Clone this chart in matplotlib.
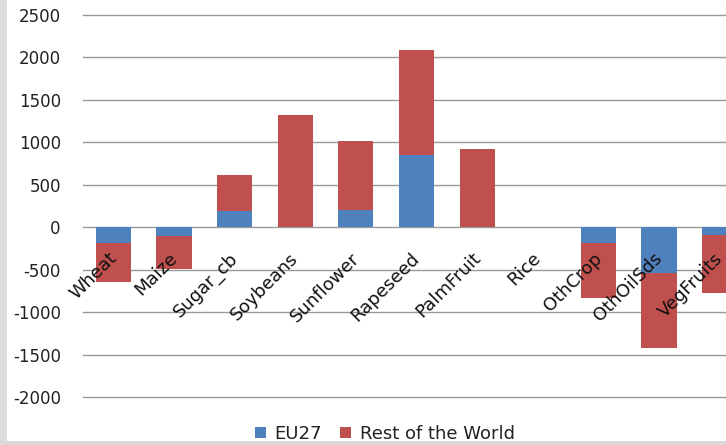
import matplotlib
matplotlib.use("Agg")
import matplotlib.pyplot as plt
from matplotlib.patches import Rectangle, Patch
import numpy as np

categories = ["Wheat", "Maize", "Sugar_cb", "Soybeans", "Sunflower", "Rapeseed",
              "PalmFruit", "Rice", "OthCrop", "OthOilSds", "VegFruits"]
eu27 = [-180, -100, 195, 0, 205, 845, 0, 0, -180, -540, -95]
rest_of_world = [-465, -395, 415, 1320, 810, 1240, 920, 0, -655, -885, -680]
y_ticks = [2500, 2000, 1500, 1000, 500, 0, -500, -1000, -1500, -2000]

plt.rcParams['font.family'] = ['DejaVu Sans']

W, H = 726, 445
fig = plt.figure(figsize=(W / 100, H / 100), dpi=100)
fig.patch.set_facecolor('white')

# gray frame on left and bottom
fig.patches.append(Rectangle((0, 0), 7 / W, 1, transform=fig.transFigure,
                             facecolor='#dcdcdc', edgecolor='none', zorder=-5))
fig.patches.append(Rectangle((0, 0), 1, 4 / H, transform=fig.transFigure,
                             facecolor='#d9d9d9', edgecolor='none', zorder=-5))

ax = fig.add_axes([83 / W, (H - 397) / H, 667 / W, 382 / H])
ax.set_facecolor('none')

x = np.arange(len(categories))
blue = '#4F81BD'
red = '#C0504D'
ax.bar(x, eu27, width=0.58, color=blue, zorder=3, label='EU27')
ax.bar(x, rest_of_world, width=0.58, bottom=eu27, color=red, zorder=3,
       label='Rest of the World')

ax.set_xlim(-0.5, len(categories) - 0.5)
ax.set_ylim(-2000, 2500)
ax.set_yticks(y_ticks)
ax.set_yticklabels([str(v) for v in y_ticks], fontsize=12, color='#222222')
ax.tick_params(axis='y', length=0, pad=16)
ax.set_xticks([])
ax.yaxis.grid(True, color='#9a9a9a', linewidth=1.0, zorder=0)
for gl in ax.get_ygridlines():
    gl.set_clip_on(False)
ax.set_axisbelow(True)
for s in ax.spines.values():
    s.set_visible(False)

for i, c in enumerate(categories):
    ax.annotate(c, xy=(i, 0), xycoords='data', xytext=(7, -22),
                textcoords='offset pixels', rotation=45, ha='right', va='top',
                fontsize=13, color='#111111', zorder=5, annotation_clip=False)

handles = [Patch(facecolor=blue, edgecolor='none'),
           Patch(facecolor=red, edgecolor='none')]
fig.legend(handles, ['EU27', 'Rest of the World'], loc='center',
           bbox_to_anchor=(385 / W, 1 - 434 / H), ncol=2, frameon=False,
           fontsize=13, handlelength=0.6, handleheight=0.6,
           handletextpad=0.5, columnspacing=1.0, labelcolor='#222222')

fig.savefig('out.png', dpi=100)
